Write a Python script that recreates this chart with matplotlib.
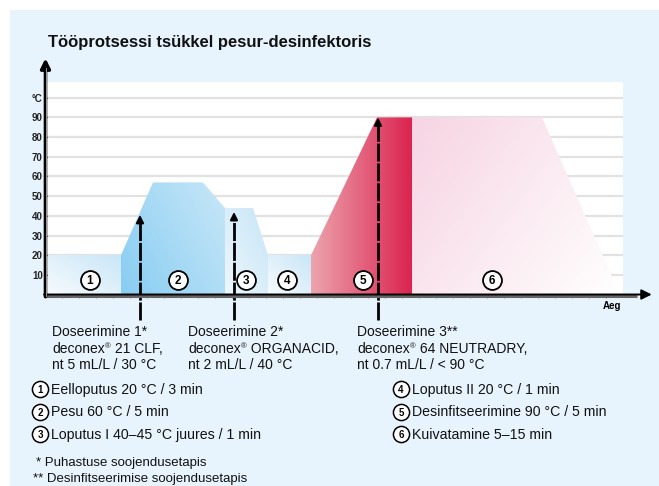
import numpy as np
import matplotlib.pyplot as plt
from matplotlib.patches import Polygon, Rectangle
from matplotlib.colors import to_rgb

plt.rcParams['font.family'] = ['Liberation Sans', 'DejaVu Sans']
plt.rcParams['lines.scale_dashes'] = False

# ------------------------------------------------------------
# data (time in arbitrary units, temperature in °C)
# ------------------------------------------------------------
phase1_t = [0.1, 7.4]
phase1_temp = [20, 20]
phase2_t = [7.4, 10.6, 15.6, 17.8]
phase2_temp = [20, 57, 57, 44]
phase3_t = [17.8, 20.6, 22.1]
phase3_temp = [44, 44, 20]
phase4_t = [22.1, 26.4]
phase4_temp = [20, 20]
phase5_t = [26.4, 33.0, 36.5]
phase5_temp = [20, 90, 90]
phase6_t = [36.5, 49.5, 57.3]
phase6_temp = [90, 90, 0]

phase_label_t = [4.3, 13.1, 19.9, 24.0, 31.6, 44.5]
phase_labels = ["1", "2", "3", "4", "5", "6"]

dose_t = [9.3, 18.7, 33.1]
dose_temp = [40.5, 42, 90]
dose_title = ["Doseerimine 1*", "Doseerimine 2*", "Doseerimine 3**"]
dose_product = [" 21 CLF,", " ORGANACID,", " 64 NEUTRADRY,"]
dose_amount = ["nt 5 mL/L / 30 °C", "nt 2 mL/L / 40 °C", "nt 0.7 mL/L / < 90 °C"]

y_ticks = [10, 20, 30, 40, 50, 60, 70, 80, 90, 100]
y_ticklabels = ["10", "20", "30", "40", "50", "60", "70", "80", "90", "°C"]

legend_left = ["Eelloputus 20 °C / 3 min", "Pesu 60 °C / 5 min",
               "Loputus I 40–45 °C juures / 1 min"]
legend_right = ["Loputus II 20 °C / 1 min", "Desinfitseerimine 90 °C / 5 min",
                "Kuivatamine 5–15 min"]
footnotes = ["* Puhastuse soojendusetapis", "** Desinfitseerimise soojendusetapis"]

title = "Tööprotsessi tsükkel pesur-desinfektoris"

W, H = 659, 486
BG = "#e8f4fd"


def gradient_fill(ax, ts, temps, c0, c1, direction=(1, 0)):
    verts = [(ts[0], 0)] + list(zip(ts, temps)) + [(ts[-1], 0)]
    poly = Polygon(verts, closed=True, fc="none", ec="none")
    ax.add_patch(poly)
    x0, x1 = min(ts), max(ts)
    y0, y1 = 0, max(temps)
    n = 200
    gx, gy = np.meshgrid(np.linspace(0, 1, n), np.linspace(0, 1, n))
    dx, dy = direction
    f = (gx * dx + gy * dy)
    f = (f - f.min()) / (f.max() - f.min())
    a, b = np.array(to_rgb(c0)), np.array(to_rgb(c1))
    img = a[None, None, :] * (1 - f[..., None]) + b[None, None, :] * f[..., None]
    im = ax.imshow(img, extent=(x0, x1, y0, y1), origin="lower",
                   aspect="auto", interpolation="bilinear", zorder=2)
    im.set_clip_path(poly)


fig = plt.figure(figsize=(W / 100, H / 100), dpi=100)
renderer = fig.canvas.get_renderer()

# background overlay in pixel coordinates
bg = fig.add_axes([0, 0, 1, 1], zorder=0)
bg.set_xlim(0, W)
bg.set_ylim(H, 0)
bg.axis("off")
bg.add_patch(Rectangle((10, 10), W, H, fc=BG, ec="none"))

# main chart axes
x_px0, x_px1 = 47, 623
y_px0, y_px1 = 294.7, 82
ax = fig.add_axes([x_px0 / W, 1 - y_px0 / H,
                   (x_px1 - x_px0) / W, (y_px0 - y_px1) / H], zorder=1)
ax.set_xlim(0, (x_px1 - x_px0) / 10)
ax.set_ylim(0, (y_px0 - y_px1) / 1.97)
ax.set_facecolor("white")
for s in ax.spines.values():
    s.set_visible(False)

ax.set_yticks(y_ticks)
ax.set_yticklabels(y_ticklabels, fontsize=7, fontweight="bold")
ax.tick_params(axis="y", length=2, pad=1, width=0.8, colors="#222222")
ax.set_xticks(np.arange(1.5, 57.6, 1.7))
ax.set_xticklabels([])
ax.tick_params(axis="x", length=2.5, width=0.6, colors="#888888", direction="out")
ax.grid(axis="y", color="#e2e2e2", lw=1.6, zorder=1)
ax.set_axisbelow(True)

# phases
gradient_fill(ax, phase1_t, phase1_temp, "#f7fbfe", "#c9e6f7", (1, 1))
gradient_fill(ax, phase2_t, phase2_temp, "#88cdf2", "#c8e7f8", (1, 0.6))
gradient_fill(ax, phase3_t, phase3_temp, "#eef7fd", "#c7e5f7", (1, 1))
gradient_fill(ax, phase4_t, phase4_temp, "#f7fbfe", "#c9e6f7", (1, 1))
gradient_fill(ax, phase5_t, phase5_temp, "#eca4ad", "#db2450", (1, 0))
gradient_fill(ax, phase6_t, phase6_temp, "#f7d4e3", "#ffffff", (1, -0.6))

# phase number circles
ax.scatter(phase_label_t, [7.7] * len(phase_label_t), s=185, marker="o",
           fc="white", ec="black", lw=1.3, zorder=4, clip_on=False)
for t, lab in zip(phase_label_t, phase_labels):
    ax.text(t, 7.7, lab, ha="center", va="center_baseline", fontsize=8.5,
            fontweight="bold", zorder=5)

# dosing arrows
for t, tip in zip(dose_t, dose_temp):
    ax.plot([t, t], [-12.8, tip - 3], color="black", lw=2,
            linestyle=(0, (13, 1.3)), zorder=6, clip_on=False,
            solid_capstyle="butt")
    ax.annotate("", xy=(t, tip), xytext=(t, tip - 3.5),
                arrowprops=dict(arrowstyle="-|>", color="black", lw=1.5,
                                mutation_scale=11, shrinkA=0, shrinkB=0),
                zorder=7, annotation_clip=False)

# axes with arrows
ymax_arrow = (y_px0 - 58.3) / 1.97
xmax_arrow = (651.7 - x_px0) / 10
ax.annotate("", xy=(-0.15, ymax_arrow), xytext=(-0.15, -1.0),
            arrowprops=dict(arrowstyle="-|>", color="black", lw=2.6,
                            mutation_scale=14, shrinkA=0, shrinkB=0),
            zorder=8, annotation_clip=False)
ax.plot([-0.15, -0.15], [-0.8, ymax_arrow - 5], color="#9a9a9a", lw=0.7,
        zorder=9, clip_on=False)
ax.plot([-0.15, xmax_arrow - 1.5], [-0.75, -0.75], color="#666666", lw=2.2,
        zorder=7, clip_on=False, solid_capstyle="butt")
ax.annotate("", xy=(xmax_arrow, 0.1), xytext=(-0.3, 0.1),
            arrowprops=dict(arrowstyle="-|>", color="black", lw=1.4,
                            mutation_scale=15, shrinkA=0, shrinkB=0),
            zorder=8, annotation_clip=False)

# texts in pixel coords
TXT = "#111111"
bg.text(48, 47, title, fontsize=12, fontweight="bold", ha="left",
        va="baseline", color=TXT)
bg.text(612, 309, "Aeg", fontsize=7, fontweight="bold", ha="center",
        va="baseline", zorder=10)


def text_width_px(t):
    bb = t.get_window_extent(renderer=renderer)
    return bb.width


dose_x = [52, 188, 357]
line_base = [336, 352.5, 369]
for x, t1, prod, amt in zip(dose_x, dose_title, dose_product, dose_amount):
    bg.text(x, line_base[0], t1, fontsize=10, ha="left", va="baseline", color=TXT)
    a = bg.text(x, line_base[1], "deconex", fontsize=10, ha="left",
                va="baseline", color=TXT)
    xr = x + text_width_px(a)
    r = bg.text(xr + 0.3, line_base[1] - 4.5, "®", fontsize=5.5, ha="left",
                va="baseline", color=TXT)
    xr2 = xr + 0.3 + text_width_px(r)
    bg.text(xr2, line_base[1], prod, fontsize=10, ha="left", va="baseline",
            color=TXT)
    bg.text(x, line_base[2], amt, fontsize=10, ha="left", va="baseline", color=TXT)

legend_base = [393.5, 416, 438.5]
for col_x, items, start in [(40, legend_left, 1), (401, legend_right, 4)]:
    for i, (yb, s) in enumerate(zip(legend_base, items)):
        bg.scatter([col_x], [yb - 4.5], s=135, marker="o", fc="white",
                   ec="black", lw=1.1, zorder=3)
        bg.text(col_x, yb - 4.5, str(start + i), fontsize=7, fontweight="bold",
                ha="center", va="center_baseline", zorder=4)
        bg.text(col_x + 11, yb, s, fontsize=10.2, ha="left", va="baseline",
                color=TXT)

bg.text(36, 466, footnotes[0], fontsize=9.5, ha="left", va="baseline", color=TXT)
bg.text(33, 482, footnotes[1], fontsize=9.5, ha="left", va="baseline", color=TXT)

fig.savefig("out.png", dpi=100)
